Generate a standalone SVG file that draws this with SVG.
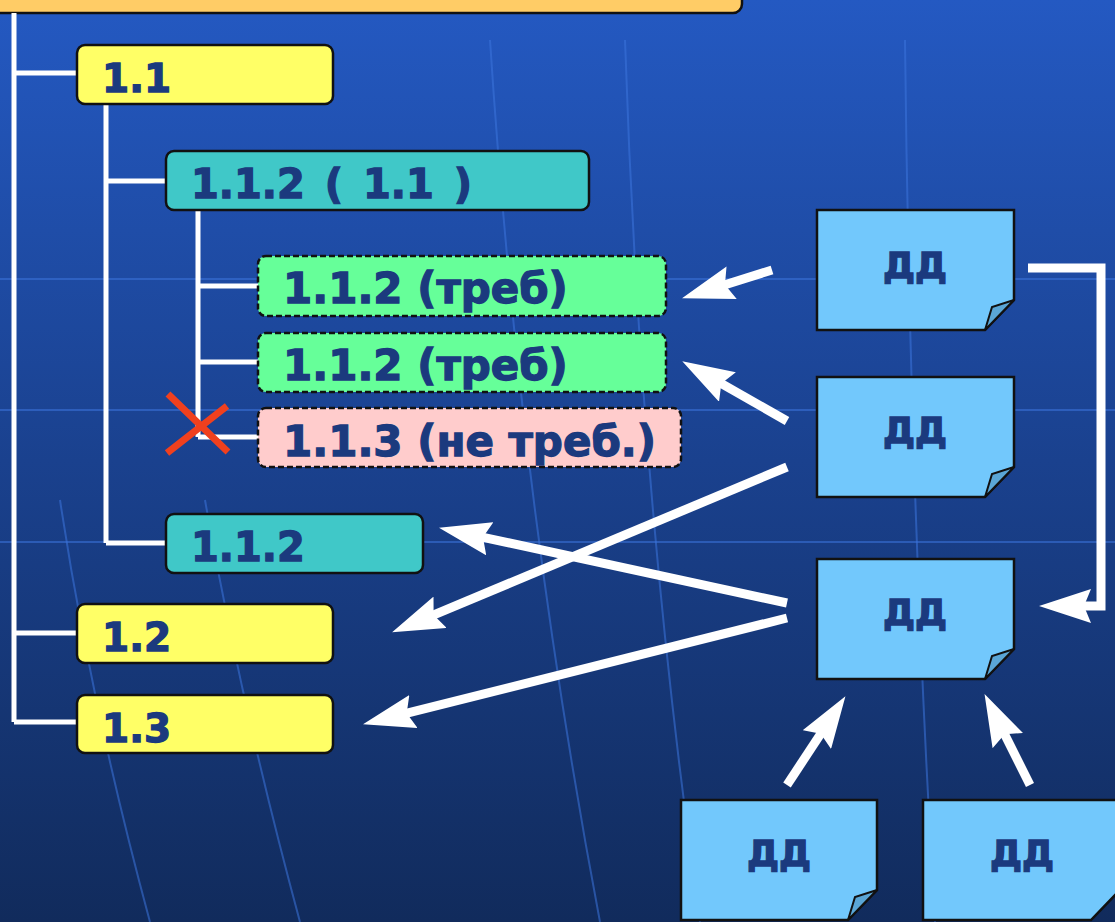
<svg xmlns="http://www.w3.org/2000/svg" width="1115" height="922" viewBox="0 0 1115 922">
<style>
.t{font-family:"DejaVu Sans","Liberation Sans",sans-serif;font-weight:bold;fill:#1b3a7e;stroke:#1b3a7e;stroke-width:1.3}
.box{stroke:#111;stroke-width:2.5}
.dash{stroke:#111;stroke-width:2.5;stroke-dasharray:6 3}
.tree{fill:none;stroke:#fff;stroke-width:5}
.arr{fill:none;stroke:#fff;stroke-width:9;marker-end:url(#ah)}
.doc{fill:#72c8fc;stroke:#111;stroke-width:2.5}
.flap{fill:#5aa6d6;stroke:#111;stroke-width:2}
.grid{fill:none;stroke:#3c74dc;stroke-width:2;opacity:0.55}
</style>
<defs>
<linearGradient id="bg" x1="0" y1="0" x2="0" y2="1">
<stop offset="0" stop-color="#2459c2"/>
<stop offset="0.5" stop-color="#1a418e"/>
<stop offset="1" stop-color="#112b5c"/>
</linearGradient>
<marker id="ah" markerUnits="userSpaceOnUse" viewBox="0 0 52 34" markerWidth="52" markerHeight="34" refX="21" refY="17" orient="auto">
<path d="M0,0 L52,17 L0,34 L7,17 Z" fill="#fff"/>
</marker>
</defs>
<rect width="1115" height="922" fill="url(#bg)"/>
<g id="grid">
<path class="grid" d="M0,279 H1115"/>
<path class="grid" d="M0,410 H1115"/>
<path class="grid" d="M0,542 H1115"/>
<path class="grid" d="M60,500 Q90,700 150,922"/>
<path class="grid" d="M205,500 Q240,700 300,922"/>
<path class="grid" d="M490,40 Q520,500 600,922"/>
<path class="grid" d="M625,40 Q640,500 700,922"/>
<path class="grid" d="M905,40 Q910,500 935,922"/>
</g>
<g id="top">
<rect x="-10" y="-30" width="752" height="43" rx="9" fill="#ffcc66" class="box"/>
</g>
<g id="tree-lines">
<path class="tree" d="M14,13 V722 M14,73 H78 M14,633 H78 M14,722 H78"/>
<path class="tree" d="M106,104 V543 M106,181 H167 M106,543 H167"/>
<path class="tree" d="M198,210 V437 M198,286 H258 M198,362 H258 M198,437 H258"/>
</g>
<g id="n11"><rect x="77" y="45" width="256" height="59" rx="8" fill="#ffff66" class="box"/><text class="t" x="102" y="92" font-size="39">1.1</text></g>
<g id="n112a"><rect x="166" y="151" width="423" height="59" rx="8" fill="#40c8c8" class="box"/><text class="t" x="191" y="198" font-size="40" word-spacing="6">1.1.2 ( 1.1 )</text></g>
<g id="n112req1"><rect x="258" y="256" width="408" height="60" rx="8" fill="#66ff99" class="dash"/><text class="t" x="283" y="303" font-size="42">1.1.2 (треб)</text></g>
<g id="n112req2"><rect x="258" y="333" width="408" height="59" rx="8" fill="#66ff99" class="dash"/><text class="t" x="283" y="380" font-size="42">1.1.2 (треб)</text></g>
<g id="n113"><rect x="258" y="408" width="423" height="59" rx="8" fill="#ffcccc" class="dash"/><text class="t" x="283" y="456" font-size="42">1.1.3 (не треб.)</text></g>
<g id="cross"><path d="M168,394 L228,452 M227,406 L167,453" stroke="#f0401e" stroke-width="7" fill="none"/></g>
<g id="n112b"><rect x="166" y="514" width="257" height="59" rx="8" fill="#40c8c8" class="box"/><text class="t" x="191" y="561" font-size="40">1.1.2</text></g>
<g id="n12"><rect x="77" y="604" width="256" height="59" rx="8" fill="#ffff66" class="box"/><text class="t" x="102" y="651" font-size="39">1.2</text></g>
<g id="n13"><rect x="77" y="695" width="256" height="58" rx="8" fill="#ffff66" class="box"/><text class="t" x="102" y="742" font-size="39">1.3</text></g>
<g id="dd1"><path class="doc" d="M817,210 H1014 V300 L985,330 H817 Z"/><path class="flap" d="M1014,300 L992,307 L985,330 Z"/><text class="t" x="915" y="278" font-size="36" text-anchor="middle">ДД</text></g>
<g id="dd2"><path class="doc" d="M817,377 H1014 V467 L985,497 H817 Z"/><path class="flap" d="M1014,467 L992,474 L985,497 Z"/><text class="t" x="915" y="443" font-size="36" text-anchor="middle">ДД</text></g>
<g id="dd3"><path class="doc" d="M817,559 H1014 V649 L985,679 H817 Z"/><path class="flap" d="M1014,649 L992,656 L985,679 Z"/><text class="t" x="915" y="625" font-size="36" text-anchor="middle">ДД</text></g>
<g id="dd4"><path class="doc" d="M681,800 H877 V890 L848,920 H681 Z"/><path class="flap" d="M877,890 L855,897 L848,920 Z"/><text class="t" x="779" y="866" font-size="36" text-anchor="middle">ДД</text></g>
<g id="dd5"><path class="doc" d="M923,800 H1120 V890 L1091,920 H923 Z"/><text class="t" x="1022" y="866" font-size="36" text-anchor="middle">ДД</text></g>
<g id="connectors">
<path class="arr" d="M772,270 L711.6,289"/>
<path class="arr" d="M787,421 L709.2,376.6"/>
<path class="arr" d="M787,467 L420.7,620.4"/>
<path class="arr" d="M787,603 L469.3,534.3"/>
<path class="arr" d="M787,618 L393.1,716.7"/>
<path class="arr" d="M1028,268 H1101 V606 L1070,606"/>
<path class="arr" d="M787,785 L828.4,722.1"/>
<path class="arr" d="M1030,785 L998.4,721.8"/>
</g>
</svg>
